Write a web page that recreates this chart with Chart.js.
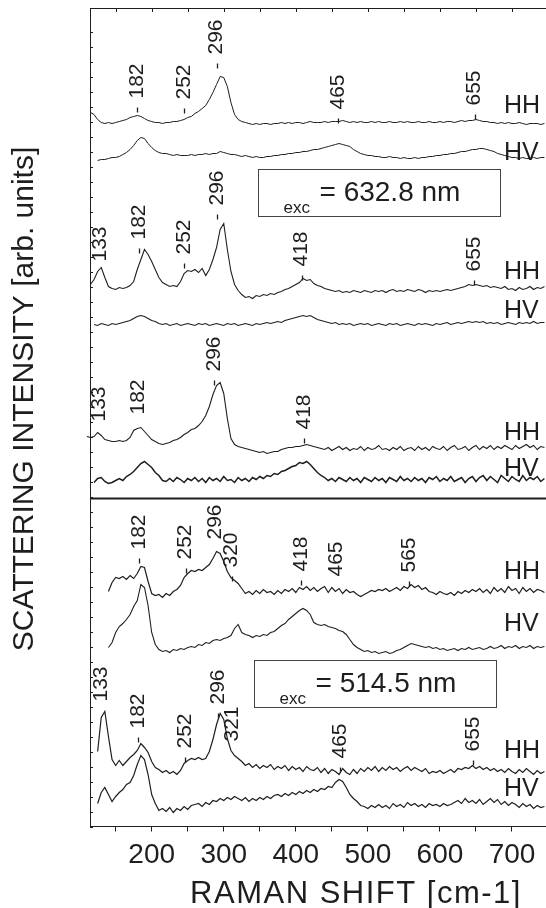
<!DOCTYPE html>
<html>
<head>
<meta charset="utf-8">
<script src="https://cdn.jsdelivr.net/npm/chart.js@4.4.0/dist/chart.umd.min.js"></script>
<style>
  html, body { margin: 0; padding: 0; background: #fff; }
</style>
</head>
<body>
<canvas id="raman" width="546" height="908"></canvas>
<script>
// raman shift axis (cm-1)
var xMin = 114.4, xMax = 747.2;
var yMax = 818.5;
var xTicks = [150, 200, 250, 300, 350, 400, 450, 500, 550, 600, 650, 700];

// every spectrum is sampled every 5 cm-1 starting at traceStart,
// and shifted up by traceOffset so the ten spectra stack
var traceNames  = ['HH', 'HV', 'HH', 'HV', 'HH', 'HV', 'HH', 'HV', 'HH', 'HV'];
var traceStart  = [115, 125, 115, 120, 110, 120, 140, 140, 125, 125];
var traceStep   = 5;
var traceOffset = [704, 669, 537, 502, 378, 347, 235, 176, 57, 20];
var traceWidth  = [1, 1, 1.1, 1.1, 1.1, 1.5, 1.2, 1.1, 1.2, 1.2];
var separatorLevel = 328;

// 632.8 nm
var hh1 = [10,8,3,0,-1,0,-1,0,1,2,3,5,6,7,6,4,2,1,0,0,-1,0,0,1,1,2,3,5,6,9,11,14,17,23,30,38,46,45,36,20,8,3,1,0,
  -1,-2,-1,-2,-1,-1,-2,-1,-1,0, -1,0,-1,0,0,-1,0,1,0,0, 0,1,0,1,1,1,2,1,0,1, 0,1,0,0,1,0,1,0,0,1,
  0,0,1,0,1,0,0,1,0,0, 1,0,0,1,0,1,1,0,1,2, 1,2,2,3,2,1,1,0,0,-1, 0,-1,0,-1,-1,0,-1,-2,-1,-1, -1,-2,-1];
var hv1 = [-3,-2,-2,-1,0,0,1,3,5,8, 12,17,20,19,14,10,7,5,4,4, 3,2,3,2,2,2,3,2,3,3, 4,3,4,4,6,5,4,3,3,2,
  1,2,1,0,1,0,0,1,1,2, 2,3,3,4,4,5,5,6,6,7, 8,8,9,10,11,12,13,14,13,12, 11,8,6,4,3,2,2,1,1,0,
  0,1,0,0,-1,0,-1,-1,0,-1, 0,0,1,1,2,2,3,3,4,4, 5,6,6,7,8,8,9,9,8,7, 6,4,3,2,1,0,0,-1,0,-1, -1,0,-1,0,0];
var hh2 = [5,10,18,22,12,3,1,0,2,1, 2,4,8,20,30,40,35,28,20,12, 7,5,3,4,3,8,16,19,18,20, 17,21,14,20,30,42,60,66,40,18,
  5,-1,-5,-8,-7,-9,-6,-7,-5,-6, -4,-5,-3,-2,0,1,3,5,7,11, 9,10,6,4,3,1,0,-1,-2,-1, -3,-2,-3,-1,-2,-3,-1,-2,-3,-1,
  -2,-1,-3,-1,0,-2,-1,-2,0,-1, -2,0,-1,-3,-1,-2,-1,-2,-1,0, -1,0,1,2,3,5,4,5,4,3, 4,2,3,2,1,3,0,1,-1,2, 0,1,3,0,2,1,3];
var hv2 = [0,-1,1,0,-1,1,0,1,2,3, 4,6,8,9,8,6,4,3,1,0, 1,-1,0,1,-1,0,1,0,-1,1, 0,1,-1,0,1,0,-1,1,0,1,
  -1,0,1,0,-1,1,0,1,2,1, 2,3,2,4,5,6,7,8,9,8, 9,7,5,4,3,2,1,2,0,1, 0,1,-1,0,1,0,1,-1,0,1,
  0,-1,1,0,1,-1,0,1,0,-1, 1,0,1,0,-1,1,0,1,2,0, 1,2,1,2,3,2,3,2,3,1, 2,1,2,0,1,2,1,0,2,1, 2,1,3,1,2,2];
var hh3 = [12,11,12,16,13,9,8,7,7,8, 7,8,11,18,20,21,17,13,9,7, 5,4,5,6,8,9,11,14,16,19, 20,23,27,33,42,54,63,66,55,30,
  10,4,2,1,0,-1,-2,-3,-4,-3, -5,-4,-3,-3,-1,0,1,1,2,2, 3,4,3,2,1,0,-1,1,-2,0, 2,-1,1,-2,0,-1,2,-2,1,-1,
  0,3,-1,0,-2,1,-1,2,-2,0, 1,-2,2,-1,1,-2,2,0,-1,2, -2,1,3,-1,0,2,-2,1,3,-1, 2,0,3,-1,2,0,3,1,-1,3, 0,2,4,1,3,-1,2,1];
var hv3 = [-3,1,2,-2,-4,-3,-1,1,-1,3, 5,8,12,16,18,15,12,7,4,-1, -2,1,-2,2,0,-3,1,-1,2,-2, 1,-3,2,-1,1,-2,3,-1,0,-3,
  2,-1,1,-2,2,0,3,1,4,3, 6,5,8,9,11,13,14,17,16,18, 15,11,7,4,2,-1,1,-2,2,0, -2,2,-1,1,-3,2,0,-2,2,-1,
  1,-3,2,0,-2,3,-1,1,-2,2, -1,1,-3,2,0,3,-2,1,-1,3, -2,0,2,-3,1,3,-2,2,4,-1, 3,0,-3,4,1,-2,3,0,-2,4, -1,2,0,3,-2,1];

// 514.5 nm
var hh4 = [0,9,14,13,15,12,16,13,18,25, 24,10,-2,-4,-3,-6,-2,-4,0,2, 6,14,18,21,20,22,21,24,27,33, 40,38,30,20,14,11,8,3,-2,0,
  -3,1,-2,2,-1,0,-3,1,-2,2, 0,3,-1,4,2,5,1,4,0,3, 5,-1,4,0,3,-2,2,-1,0,-3, -5,-3,-1,1,0,2,1,3,0,2,
  4,1,5,3,7,4,6,2,4,0, -1,-3,0,-2,-3,-1,-4,0,-2,1, -1,2,0,3,-1,2,-2,4,0,3, -1,5,1,3,-2,4,0,3,-1,2,1,-1];
var hv4 = [3,8,18,24,27,31,36,44,50,66, 63,45,18,6,1,-1,0,-2,1,0, 2,1,3,4,3,6,5,8,7,10, 11,10,12,13,15,22,26,18,16,15,
  13,15,14,16,15,18,19,22,25,27, 31,34,37,40,42,40,36,28,26,25, 26,24,23,22,20,19,16,11,6,3, 1,-1,0,-2,-1,-3,-2,-1,-3,-2,
  0,1,3,5,7,6,5,4,3,4, 2,3,1,2,0,1,2,0,2,1, 3,1,2,3,1,2,4,2,3,5, 2,4,3,5,2,4,3,5,2,4,3,4];
var hh5 = [18,52,58,33,10,4,9,4,8,12, 15,19,26,22,17,8,2,0,-3,-1, -4,-2,-5,-1,6,9,11,10,12,10, 11,18,30,45,56,50,31,19,14,11,
  8,4,6,2,5,1,4,2,5,0, 3,1,4,-1,3,0,2,-2,3,0, -1,2,-3,1,-4,0,-2,-5,1,-3, -5,0,-4,1,-2,2,-1,3,-2,2,
  -1,3,0,2,-2,1,3,-1,2,0, -2,1,-4,-2,-3,-1,-4,-2,0,-3, 1,0,2,1,4,1,3,0,2,-1, 1,-2,0,-3,1,-2,-4,0,-3,1, -2,-5,-1,-4,-2];
var hv5 = [3,14,19,12,5,10,14,17,22,24, 31,42,51,47,32,12,3,-4,-2,-5, -1,-6,-2,-4,0,-3,1,2,3,0, 4,2,6,5,8,6,9,7,10,8,
  6,9,5,8,6,9,7,10,8,11, 12,10,13,11,14,12,15,13,16,14, 17,15,18,17,20,19,24,27,25,19, 12,8,5,1,0,-2,1,-1,2,-1,
  1,-2,3,0,2,-1,4,1,3,0, 2,-1,3,1,2,0,3,1,2,4, 6,3,8,4,6,3,7,2,5,8, 4,7,2,5,1,4,2,-1,3,0, 2,-2,1,-1,0];

var traces = [hh1, hv1, hh2, hv2, hh3, hv3, hh4, hv4, hh5, hv5];

// polarisation labels at the right: x position and level (axis units)
var polLabelX = 689;
var polLabelY = [714, 667, 548, 509, 387, 351, 248, 196, 69, 31];

// peak labels: [text, raman shift, level of text start, has mark]
var peaksHH1 = [['182', 180, 728, 1], ['252', 245, 727, 1], ['296', 290, 772, 1], ['465', 459, 717, 1], ['655', 648, 721, 1]];
var peaksHH2 = [['133', 128, 565, 0], ['182', 183, 587, 1], ['252', 245, 572, 1], ['296', 291, 621, 1], ['418', 408, 560, 1], ['655', 647, 555, 1]];
var peaksHH3 = [['133', 127, 405, 0], ['182', 181, 412, 0], ['296', 287, 455, 1], ['418', 411, 397, 1]];
var peaksHH4 = [['182', 183, 277, 1], ['252', 247, 267, 1], ['296', 288, 287, 0], ['320', 311, 259, 1], ['418', 407, 255, 1], ['465', 456, 250, 0], ['565', 557, 254, 1]];
var peaksHH5 = [['133', 130, 125, 0], ['182', 181, 98, 1], ['252', 246, 78, 1], ['296', 292, 122, 1], ['321', 312, 85, 0], ['465', 462, 68, 1], ['655', 646, 75, 1]];
var allPeaks = [peaksHH1, peaksHH2, peaksHH3, peaksHH4, peaksHH5];

// excitation wavelength boxes: [text, x left, x right, level bottom, level top]
var excBoxes = [['= 632.8 nm', 348, 683, 610, 657.5], ['= 514.5 nm', 342, 678, 120, 167]];

var FONT = "'Liberation Sans', Arial, Helvetica, sans-serif";
var INK = '#1e1e1e';

var datasets = traces.map(function (vals, k) {
  return {
    label: traceNames[k] + (Math.floor(k / 2) + 1),
    data: vals.map(function (v, i) { return { x: traceStart[k] + i * traceStep, y: traceOffset[k] + v }; }),
    borderColor: INK,
    borderWidth: traceWidth[k],
    pointRadius: 0,
    tension: 0,
    fill: false,
    clip: k === 4 ? false : undefined
  };
});
datasets.push({
  label: 'separator',
  data: [{ x: xMin, y: separatorLevel }, { x: xMax, y: separatorLevel }],
  borderColor: INK,
  borderWidth: 2.2,
  pointRadius: 0
});

var decorPlugin = {
  id: 'decor',
  afterDatasetsDraw: function (chart) {
    var ctx = chart.ctx, xs = chart.scales.x, ys = chart.scales.y, a = chart.chartArea;
    ctx.save();
    ctx.strokeStyle = INK;
    ctx.fillStyle = INK;
    ctx.lineWidth = 1;

    // top frame line with little inner ticks, inner ticks on the left axis
    ctx.beginPath();
    ctx.moveTo(a.left, a.top + 0.5);
    ctx.lineTo(a.right, a.top + 0.5);
    xs.ticks.forEach(function (t) {
      var p = Math.round(xs.getPixelForValue(t.value)) + 0.5;
      ctx.moveTo(p, a.top);
      ctx.lineTo(p, a.top + 4);
    });
    ys.ticks.forEach(function (t) {
      var p = Math.round(ys.getPixelForValue(t.value)) + 0.5;
      ctx.moveTo(a.left, p);
      ctx.lineTo(a.left + 3, p);
    });
    ctx.stroke();

    // peak labels
    ctx.font = '21px ' + FONT;
    ctx.textAlign = 'left';
    ctx.textBaseline = 'middle';
    allPeaks.forEach(function (list) {
      list.forEach(function (pk) {
        var px = xs.getPixelForValue(pk[1]);
        var py = ys.getPixelForValue(pk[2]);
        ctx.save();
        ctx.translate(px, py);
        ctx.rotate(-Math.PI / 2);
        ctx.fillText(pk[0], 0, 0);
        ctx.restore();
        if (pk[3]) {
          ctx.beginPath();
          ctx.lineWidth = 1.3;
          ctx.moveTo(Math.round(px) + 0.5, py + 9);
          ctx.lineTo(Math.round(px) + 0.5, py + 14);
          ctx.stroke();
        }
      });
    });

    // HH / HV
    ctx.font = '25px ' + FONT;
    ctx.textBaseline = 'alphabetic';
    polLabelY.forEach(function (v, k) {
      ctx.fillText(traceNames[k], xs.getPixelForValue(polLabelX), ys.getPixelForValue(v));
    });

    // excitation boxes
    excBoxes.forEach(function (b) {
      var x0 = Math.round(xs.getPixelForValue(b[1])) + 0.5;
      var x1 = Math.round(xs.getPixelForValue(b[2])) + 0.5;
      var yb = Math.round(ys.getPixelForValue(b[3])) + 0.5;
      var yt = Math.round(ys.getPixelForValue(b[4])) + 0.5;
      ctx.lineWidth = 1;
      ctx.strokeStyle = '#444';
      ctx.strokeRect(x0, yt, x1 - x0, yb - yt);
      ctx.font = '17px ' + FONT;
      ctx.fillText('exc', x0 + 25, yb - 3.5);
      ctx.font = '28px ' + FONT;
      ctx.fillText(b[0], x0 + 61, yb - 15.5);
    });

    // axis titles
    ctx.font = '30px ' + FONT;
    ctx.textAlign = 'center';
    ctx.textBaseline = 'middle';
    ctx.save();
    ctx.translate(25, 399);
    ctx.rotate(-Math.PI / 2);
    ctx.fillText('SCATTERING INTENSITY [arb. units]', 0, 0);
    ctx.restore();
    ctx.font = '31px ' + FONT;
    ctx.textBaseline = 'alphabetic';
    ctx.letterSpacing = '1.5px';
    ctx.fillText('RAMAN SHIFT [cm-1]', 356, 903);
    ctx.restore();
  }
};

new Chart(document.getElementById('raman').getContext('2d'), {
  type: 'line',
  data: { datasets: datasets },
  options: {
    responsive: false,
    animation: false,
    devicePixelRatio: 1,
    layout: { padding: { top: 8, left: 0, right: 0, bottom: 0 } },
    plugins: { legend: { display: false }, tooltip: { enabled: false } },
    scales: {
      x: {
        type: 'linear',
        position: 'bottom',
        min: xMin,
        max: xMax,
        afterBuildTicks: function (s) { s.ticks = xTicks.map(function (v) { return { value: v }; }); },
        afterFit: function (s) { s.height = 81.5; },
        ticks: {
          autoSkip: false,
          maxRotation: 0,
          padding: 7,
          color: INK,
          font: { family: FONT, size: 28 },
          callback: function (v) { return v % 100 === 0 ? String(v) : ''; }
        },
        grid: { drawOnChartArea: false, tickLength: 5, tickColor: INK },
        border: { color: INK, width: 1 }
      },
      y: {
        type: 'linear',
        min: 0,
        max: yMax,
        afterFit: function (s) { s.width = 90; },
        ticks: { display: false, stepSize: 15 },
        grid: { drawOnChartArea: false, drawTicks: false },
        border: { color: INK, width: 1 }
      }
    }
  },
  plugins: [decorPlugin]
});
</script>
</body>
</html>
